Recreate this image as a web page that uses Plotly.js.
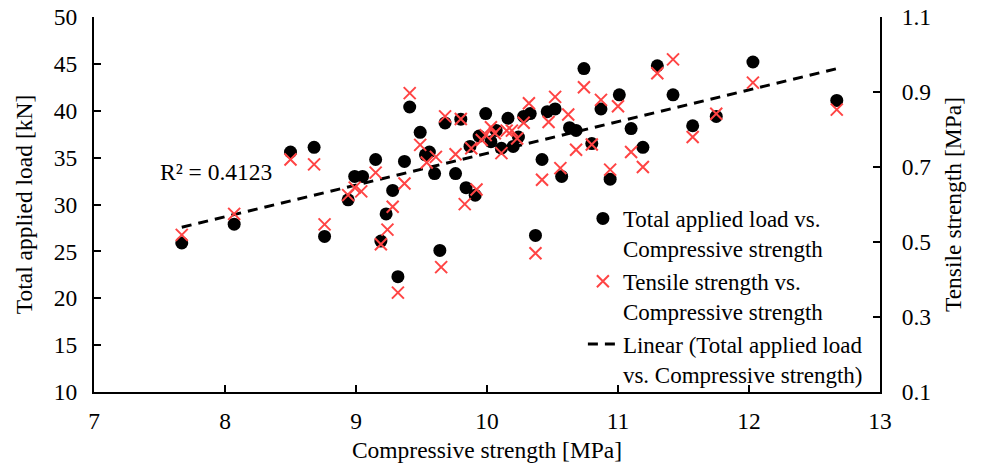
<!DOCTYPE html>
<html><head><meta charset="utf-8">
<script src="https://cdn.plot.ly/plotly-3.0.1.min.js"></script>
<style>html,body{margin:0;padding:0;background:#fff}#chart{width:982px;height:471px}</style>
</head><body><div id="chart"></div>
<script>
// Total applied load [kN] vs compressive strength [MPa]
const loadX = [7.67,8.07,8.50,8.68,8.76,8.94,8.99,9.05,9.15,9.19,9.23,9.28,9.32,9.37,9.41,9.49,9.53,9.56,9.60,9.64,9.68,9.76,9.80,9.84,9.87,9.91,9.94,9.99,10.03,10.07,10.11,10.16,10.20,10.24,10.28,10.33,10.37,10.42,10.46,10.52,10.57,10.63,10.68,10.74,10.80,10.87,10.94,11.01,11.10,11.19,11.30,11.42,11.57,11.75,12.03,12.67];
const loadY = [25.9,27.9,35.6,36.1,26.6,30.5,33.0,33.0,34.8,26.1,29.0,31.5,22.3,34.6,40.4,37.7,35.3,35.6,33.3,25.1,38.7,33.3,39.1,31.8,36.2,31.0,37.3,39.7,36.7,37.9,36.0,39.2,36.2,37.2,39.4,39.7,26.7,34.8,39.9,40.2,33.0,38.2,37.9,44.5,36.5,40.2,32.7,41.7,38.1,36.1,44.8,41.7,38.4,39.4,45.2,41.1];
// Tensile strength [MPa] vs compressive strength [MPa]
const tensileX = [7.67,8.07,8.50,8.68,8.76,8.94,8.99,9.04,9.15,9.19,9.24,9.28,9.32,9.37,9.41,9.49,9.54,9.61,9.65,9.68,9.76,9.80,9.83,9.88,9.92,9.96,9.99,10.03,10.06,10.11,10.15,10.19,10.23,10.28,10.32,10.37,10.42,10.47,10.52,10.56,10.62,10.68,10.74,10.80,10.87,10.94,11.00,11.10,11.19,11.30,11.42,11.57,11.75,12.03,12.67];
const tensileY = [0.519,0.575,0.72,0.707,0.547,0.625,0.645,0.635,0.685,0.494,0.533,0.594,0.365,0.656,0.897,0.759,0.712,0.727,0.433,0.835,0.734,0.828,0.601,0.75,0.64,0.772,0.785,0.806,0.79,0.737,0.797,0.797,0.776,0.818,0.87,0.47,0.666,0.82,0.887,0.697,0.84,0.746,0.9125,0.76,0.879,0.693,0.862,0.74,0.70,0.95,0.987,0.78,0.842,0.925,0.853];

const xTicks = [7,8,9,10,11,12,13];
const loadTicks = [10,15,20,25,30,35,40,45,50];
const tensileTicks = [0.1,0.3,0.5,0.7,0.9,1.1];
const r2Label = 'R² = 0.4123';
const names = ['Total applied load vs.<br>Compressive strength','Tensile strength vs.<br>Compressive strength','Linear (Total applied load<br>vs. Compressive strength)'];

// least-squares linear trend of the load series
const n = loadX.length;
const mx = loadX.reduce((a,b)=>a+b,0)/n, my = loadY.reduce((a,b)=>a+b,0)/n;
let sxy=0, sxx=0;
for(let i=0;i<n;i++){sxy+=(loadX[i]-mx)*(loadY[i]-my);sxx+=(loadX[i]-mx)**2;}
const slope = sxy/sxx, icpt = my-slope*mx;
const xMin = Math.min(...loadX), xMax = Math.max(...loadX);
const trendX = [xMin, xMax];
const trendY = trendX.map(x=>icpt+slope*x);

const F = 'Liberation Serif, Times New Roman, serif';
const FS = 23.5;
const data = [
  {x:loadX, y:loadY, type:'scatter', mode:'markers', name:names[0], yaxis:'y',
   marker:{symbol:'circle', size:13, color:'#000'}},
  {x:tensileX, y:tensileY, type:'scatter', mode:'markers', name:names[1], yaxis:'y2',
   marker:{symbol:'x-thin', size:12, color:'#ff4444', line:{color:'#ff4444', width:2}}},
  {x:trendX, y:trendY, type:'scatter', mode:'lines', name:names[2], yaxis:'y',
   line:{color:'#000', width:3, dash:'10px,7px'}}
];
const axisCommon = {showgrid:false, zeroline:false, showline:true, linecolor:'#000', linewidth:2,
  ticks:'inside', ticklen:7, tickwidth:2, tickcolor:'#000', tickfont:{family:F, size:FS, color:'#000'}};
const layout = {
  width:982, height:471, margin:{l:94, r:102, t:17, b:79},
  paper_bgcolor:'#fff', plot_bgcolor:'#fff', font:{family:F, size:FS, color:'#000'},
  showlegend:true,
  legend:{x:0.622, y:0.52, xanchor:'left', yanchor:'top', bgcolor:'rgba(0,0,0,0)',
    font:{family:F, size:23, color:'#000'}, valign:'top', tracegroupgap:0},
  xaxis:Object.assign({}, axisCommon, {range:[7,13], tickvals:xTicks, ticklabelstandoff:7,
    title:{text:'Compressive strength [MPa]', font:{family:F, size:FS}, standoff:8}}),
  yaxis:Object.assign({}, axisCommon, {range:[10,50], tickvals:loadTicks, ticklabelstandoff:10,
    title:{text:'Total applied load [kN]', font:{family:F, size:FS}, standoff:15}}),
  yaxis2:Object.assign({}, axisCommon, {range:[0.1,1.1], tickvals:tensileTicks, tickformat:'.1f',
    overlaying:'y', side:'right', ticklabelstandoff:15,
    title:{text:'Tensile strength [MPa]', font:{family:F, size:FS}, standoff:14}}),
  annotations:[{x:7.93, y:33.5, xref:'x', yref:'y', text:r2Label, showarrow:false,
    xanchor:'center', yanchor:'middle', font:{family:F, size:FS, color:'#000'}}]
};
Plotly.newPlot('chart', data, layout, {displayModeBar:false, staticPlot:true});
</script></body></html>
